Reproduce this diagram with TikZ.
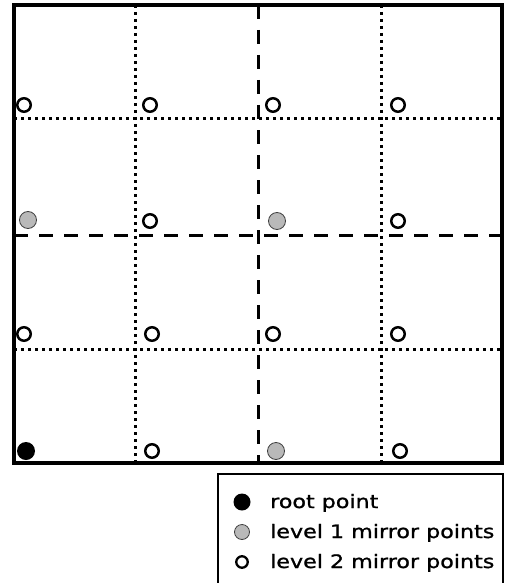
\documentclass[tikz,border=0pt]{standalone}
\usepackage{fontspec}
\setmainfont[FakeStretch=1.2,FakeBold=1.2]{DejaVu Sans}
\begin{document}
\begin{tikzpicture}[x=1pt,y=-1pt,
  dotline/.style={line width=3pt,dash pattern=on 3pt off 4pt},
  dashline/.style={line width=3pt,dash pattern=on 14pt off 11pt},
  frame/.style={line width=3.6pt},
  openpt/.style={circle,draw=black,line width=2.5pt,fill=white,minimum size=13.5pt,inner sep=0pt},
  graypt/.style={circle,draw=gray!50!black,line width=0.8pt,fill=gray!55,minimum size=17pt,inner sep=0pt},
  rootpt/.style={circle,fill=black,minimum size=18pt,inner sep=0pt},
  legtext/.style={anchor=base west,inner sep=0pt,font=\fontsize{18.5}{20}\selectfont}
]
\useasboundingbox (0,0) rectangle (509,583);
% grid lines
\draw[dotline] (135,5) -- (135,463);
\draw[dotline] (381,5) -- (381,463);
\draw[dotline] (14,119) -- (502,119);
\draw[dotline] (14,349) -- (502,349);
\draw[dashline] (258,5) -- (258,463);
\draw[dashline] (14,235) -- (502,235);
% frame
\draw[frame] (14,5) rectangle (502,463);
% points
\node[openpt] (a1) at (24,105) {};
\node[openpt] (a2) at (150,105) {};
\node[openpt] (a3) at (273,105) {};
\node[openpt] (a4) at (398,105) {};
\node[graypt] (b1) at (28,220) {};
\node[openpt] (b2) at (150,221) {};
\node[graypt] (b3) at (277,221) {};
\node[openpt] (b4) at (398,221) {};
\node[openpt] (c1) at (24,334) {};
\node[openpt] (c2) at (152,334) {};
\node[openpt] (c3) at (273,334) {};
\node[openpt] (c4) at (398,334) {};
\node[rootpt] (d1) at (26,451) {};
\node[openpt] (d2) at (152,451) {};
\node[graypt] (d3) at (276,451) {};
\node[openpt] (d4) at (400,451) {};
% legend
\draw[line width=1.5pt] (218,590) -- (218,474) -- (503,474) -- (503,590);
\node[rootpt,minimum size=17pt] (l1) at (242,502) {};
\node[graypt,minimum size=15pt] (l2) at (242,532) {};
\node[openpt,minimum size=11.5pt,line width=2.3pt] (l3) at (242,562) {};
\node[legtext] (t1) at (270,508) {root point};
\node[legtext] (t2) at (270,538) {level 1 mirror points};
\node[legtext] (t3) at (270,568) {level 2 mirror points};
\end{tikzpicture}
\end{document}
